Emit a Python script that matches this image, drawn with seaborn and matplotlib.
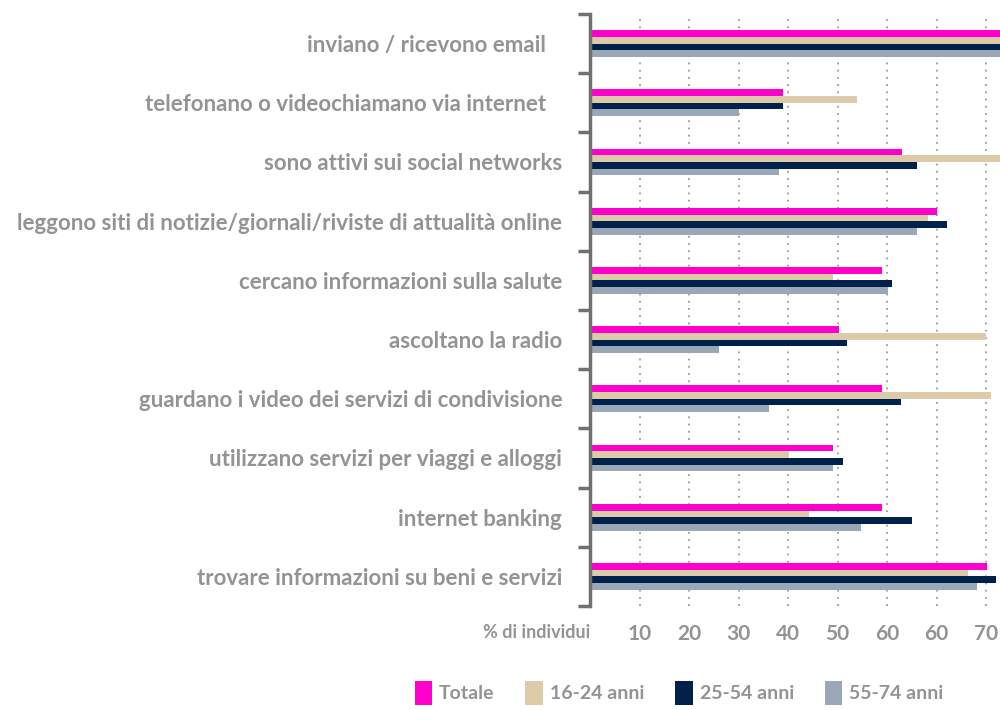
import seaborn as sns
import matplotlib.pyplot as plt
import numpy as np
import pandas as pd
from matplotlib.patches import Patch

# data (values past the right edge are clipped there too)
categories = [
    'inviano / ricevono email   ',
    'telefonano o videochiamano via internet   ',
    'sono attivi sui social networks',
    'leggono siti di notizie/giornali/riviste di attualità online',
    'cercano informazioni sulla salute',
    'ascoltano la radio',
    'guardano i video dei servizi di condivisione',
    'utilizzano servizi per viaggi e alloggi',
    'internet banking',
    'trovare informazioni su beni e servizi',
]
groups = ['Totale', '16-24 anni', '25-54 anni', '55-74 anni']
totale = [86, 39, 63, 70, 59, 50.3, 59, 49, 59, 80.2]
eta_16_24 = [86, 54, 86, 68.3, 49, 80, 81, 40.2, 44.2, 76.4]
eta_25_54 = [86, 39, 66, 72, 61, 52, 62.8, 51, 65, 82]
eta_55_74 = [86, 30, 38.2, 66, 60.2, 26, 36.2, 49, 54.7, 78.2]
tick_pos = [10, 20, 30, 40, 50, 60, 70, 80]
tick_labels = ['10', '20', '30', '40', '50', '60', '60', '70']
colors = ['#FF00CC', '#DCCAA9', '#00224A', '#9AA7B7']

grey = '#939393'
plt.rcParams['font.family'] = ['Lato', 'DejaVu Sans']

df = pd.DataFrame({
    'attivita': categories * 4,
    'gruppo': np.repeat(groups, len(categories)),
    'valore': totale + eta_16_24 + eta_25_54 + eta_55_74,
})

fig = plt.figure(figsize=(10, 7.1), dpi=100)
ax = fig.add_axes([0.59, 0.1465, 0.41, 0.8338])

sns.barplot(data=df, y='attivita', x='valore', hue='gruppo', hue_order=groups,
            palette=dict(zip(groups, colors)), orient='h', width=0.45,
            saturation=1, errorbar=None, legend=False, ax=ax)

ax.set_xlim(0, 82.8)
ax.set_ylim(9.5, -0.5)
ax.set_xlabel('')
ax.set_ylabel('')

for s in ['top', 'right', 'bottom']:
    ax.spines[s].set_visible(False)
ax.spines['left'].set_color('#707070')
ax.spines['left'].set_linewidth(2.5)

ax.set_xticks(tick_pos)
ax.set_xticklabels(tick_labels)
ax.xaxis.grid(True, linestyle=(0, (1, 3)), color='#9a9a9a', linewidth=1.3)
ax.set_axisbelow(True)
ax.tick_params(axis='x', length=0, pad=13, labelsize=15, labelcolor=grey)

ax.set_yticks(range(len(categories)))
ax.set_yticklabels(categories)
ax.set_yticks(np.arange(-0.5, len(categories), 1), minor=True)
ax.tick_params(axis='y', which='major', length=0, pad=20, labelsize=16, labelcolor=grey)
ax.tick_params(axis='y', which='minor', length=8.5, width=2.5, color='#707070')
for t in ax.get_yticklabels() + ax.get_xticklabels():
    t.set_fontweight('bold')

fig.text(0.59, 1 - 633 / 710, '% di individui', ha='right', va='center',
         fontsize=13, color=grey, fontweight='bold')

handles = [Patch(facecolor=c, edgecolor='none') for c in colors]
leg = fig.legend(handles, groups, loc='lower center', ncol=4, frameon=False,
                 bbox_to_anchor=(0.679, -0.012), handlelength=0.9, handleheight=1.5,
                 handletextpad=0.35, columnspacing=1.6, fontsize=14, borderpad=0.2)
for t in leg.get_texts():
    t.set_color(grey)
    t.set_fontweight('bold')

fig.savefig('out.png', dpi=100)
